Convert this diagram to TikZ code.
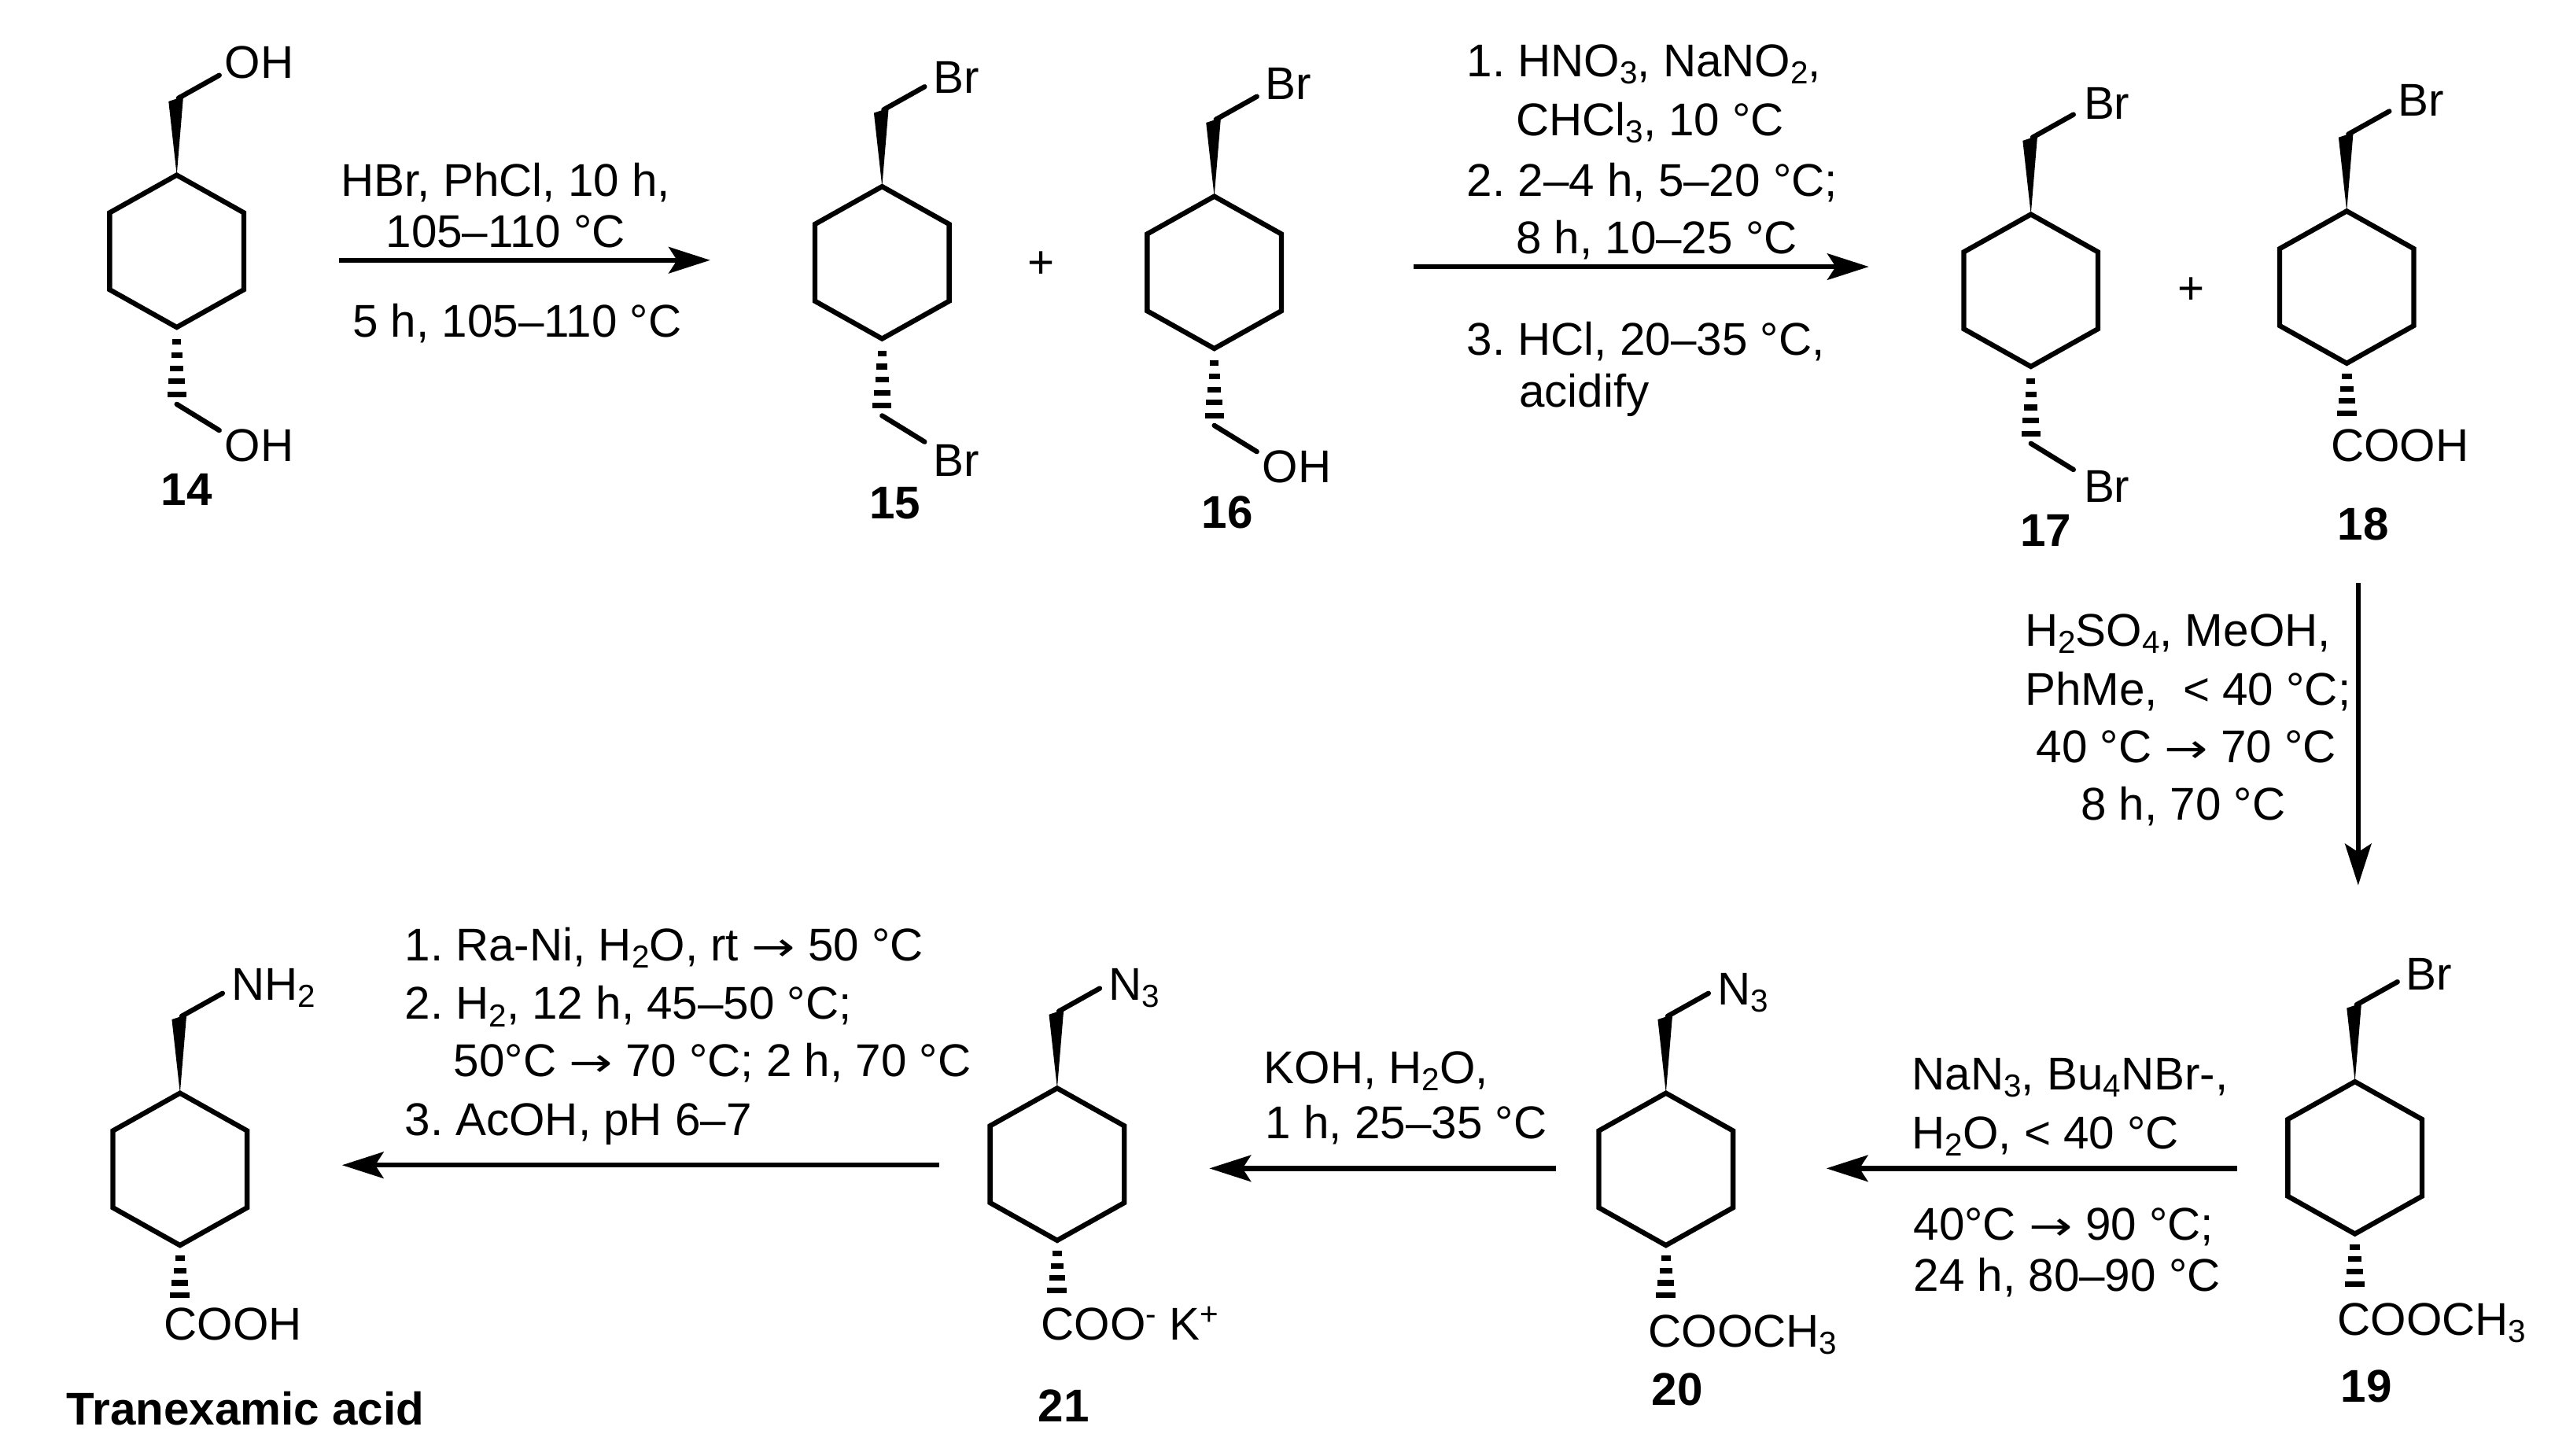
\documentclass[tikz,border=0pt]{standalone}
\usepackage{fontspec}
\setmainfont{Liberation Sans}
\newfontfamily\arrowfont{DejaVu Sans}
\usetikzlibrary{arrows.meta}
\frenchspacing
\newcommand{\sbs}[1]{\raisebox{-0.3ex}{\fontsize{11.5}{11.5}\selectfont #1}}
\newcommand{\sps}[1]{\raisebox{0.62ex}{\fontsize{11.5}{11.5}\selectfont #1}}
\newcommand{\rarr}{\scalebox{1.3}[1]{\arrowfont\fontsize{14.5}{14.5}\selectfont →}}
\tikzset{
  bond/.style={line width=1.8pt,line cap=round,line join=miter},
  rxn/.style={line width=1.8pt,-{Stealth[length=15pt,width=9.5pt,inset=3pt]}},
  txt/.style={anchor=base west,inner sep=0pt,yshift=-0.02cm,font=\fontsize{16.6}{16.6}\selectfont},
  ctr/.style={anchor=base,inner sep=0pt,yshift=-0.02cm,font=\fontsize{16.6}{16.6}\selectfont},
  cmpd/.style={anchor=base,inner sep=0pt,yshift=-0.02cm,font=\fontsize{16.6}{16.6}\selectfont\bfseries}
}
% ring with wedge up and the bond leaving it
\newcommand{\RingUp}[2]{%
  \begin{scope}[shift={(#1,#2)}]
    \draw[bond] (0,0) -- (41,23) -- (41,70) -- (0,93) -- (-41,70) -- (-41,23) -- cycle;
    \fill (0,0) -- (-5,-45) -- (4,-48) -- cycle;
    \draw[bond] (1,-47) -- (26,-61);
  \end{scope}}
% long hashed bond, then a bond on to the substituent
\newcommand{\HashLong}[2]{%
  \begin{scope}[shift={(#1,#2)}]
    \foreach \yy/\ww in {9/2.6,17/3.4,25/4.2,33/5,41/5.8}
      \draw[line width=2pt] (-\ww,93+\yy) -- (\ww,93+\yy);
    \draw[bond] (0,93+47) -- (26,93+63);
  \end{scope}}
% short hashed bond to a carboxyl group
\newcommand{\HashShort}[2]{%
  \begin{scope}[shift={(#1,#2)}]
    \foreach \yy/\ww in {8/3,15.5/4,23/5,30.5/6}
      \draw[line width=2pt] (-\ww,93+\yy) -- (\ww,93+\yy);
  \end{scope}}
\begin{document}
\begin{tikzpicture}[x=0.0208036cm,y=-0.0208036cm]
\useasboundingbox (0,0) rectangle (1568,889.7);
% molecules
\RingUp{108}{107}\HashLong{108}{107}
\RingUp{539}{114}\HashLong{539}{114}
\RingUp{742}{120}\HashLong{742}{120}
\RingUp{1241}{131}\HashLong{1241}{131}
\RingUp{1434}{129}\HashShort{1434}{129}
\RingUp{1439}{661}\HashShort{1439}{661}
\RingUp{1018}{668}\HashShort{1018}{668}
\RingUp{646}{665}\HashShort{646}{665}
\RingUp{110}{668}\HashShort{110}{668}
% atoms
\node[txt] (oh14a) at (137,47) {OH};
\node[txt] (oh14b) at (137,281) {OH};
\node[txt] (br15a) at (570,56) {Br};
\node[txt] (br15b) at (570,290) {Br};
\node[txt] (br16a) at (773,60) {Br};
\node[txt] (oh16) at (771,294) {OH};
\node[txt] (br17a) at (1273,72) {Br};
\node[txt] (br17b) at (1273,306) {Br};
\node[txt] (br18) at (1465,70) {Br};
\node[txt] (cooh18) at (1424,281) {COOH};
\node[txt] (br19) at (1470,604) {Br};
\node[txt] (coo19) at (1428,815) {COOCH\sbs{3}};
\node[txt] (n20) at (1049,613) {N\sbs{3}};
\node[txt] (coo20) at (1007,822) {COOCH\sbs{3}};
\node[txt] (n21) at (677,610) {N\sbs{3}};
\node[txt] (coo21) at (636,818) {COO\sps{-} K\sps{+}};
\node[txt] (nh2) at (141,610) {NH\sbs{2}};
\node[txt] (cooh22) at (100,818) {COOH};
% compound labels
\node[cmpd] (c14) at (114,308) {14};
\node[cmpd] (c15) at (547,316) {15};
\node[cmpd] (c16) at (750,322) {16};
\node[cmpd] (c17) at (1250,333) {17};
\node[cmpd] (c18) at (1444,329) {18};
\node[cmpd] (c19) at (1446,856) {19};
\node[cmpd] (c20) at (1025,858) {20};
\node[cmpd] (c21) at (650,868) {21};
\node[cmpd] (c22) at (150,870) {Tranexamic acid};
\node[ctr] (plusa) at (636,169) {+};
\node[ctr] (plusb) at (1339,185) {+};
% arrows
\coordinate (a1s) at (207,159); \coordinate (a1e) at (434,159);
\coordinate (a2s) at (864,163); \coordinate (a2e) at (1142,163);
\coordinate (a3s) at (1441,356); \coordinate (a3e) at (1441,541);
\coordinate (a4s) at (1367,714); \coordinate (a4e) at (1116,714);
\coordinate (a5s) at (951,714); \coordinate (a5e) at (739,714);
\coordinate (a6s) at (574,712); \coordinate (a6e) at (209,712);
\draw[rxn] (a1s) -- (a1e);
\draw[rxn] (a2s) -- (a2e);
\draw[rxn] (a3s) -- (a3e);
\draw[rxn] (a4s) -- (a4e);
\draw[rxn] (a5s) -- (a5e);
\draw[rxn] (a6s) -- (a6e);
% conditions
\node[ctr] (t1) at (309,119) {HBr, PhCl, 10 h,};
\node[ctr] (t2) at (309,150) {105–110 °C};
\node[ctr] (t3) at (316,205) {5 h, 105–110 °C};
\node[txt] (t4) at (896,46) {1. HNO\sbs{3}, NaNO\sbs{2},};
\node[txt] (t5) at (926,82) {CHCl\sbs{3}, 10 °C};
\node[txt] (t6) at (896,119) {2. 2–4 h, 5–20 °C;};
\node[txt] (t7) at (926,154) {8 h, 10–25 °C};
\node[txt] (t8) at (896,216) {3. HCl, 20–35 °C,};
\node[txt] (t9) at (928,248) {acidify};
\node[txt] (t10) at (1237,394) {H\sbs{2}SO\sbs{4}, MeOH,};
\node[txt] (t11) at (1237,430) {PhMe,\ \ < 40 °C;};
\node[ctr] (t12) at (1336,465) {40 °C \rarr{} 70 °C};
\node[ctr] (t13) at (1334,500) {8 h, 70 °C};
\node[txt] (t14) at (1168,665) {NaN\sbs{3}, Bu\sbs{4}NBr-,};
\node[txt] (t15) at (1168,701) {H\sbs{2}O, < 40 °C};
\node[txt] (t16) at (1169,757) {40°C \rarr{} 90 °C;};
\node[txt] (t17) at (1169,788) {24 h, 80–90 °C};
\node[txt] (t18) at (772,661) {KOH, H\sbs{2}O,};
\node[txt] (t19) at (773,695) {1 h, 25–35 °C};
\node[txt] (t20) at (247,586) {1. Ra-Ni, H\sbs{2}O, rt \rarr{} 50 °C};
\node[txt] (t21) at (247,622) {2. H\sbs{2}, 12 h, 45–50 °C;};
\node[txt] (t22) at (277,657) {50°C \rarr{} 70 °C; 2 h, 70 °C};
\node[txt] (t23) at (247,693) {3. AcOH, pH 6–7};
\end{tikzpicture}
\end{document}
